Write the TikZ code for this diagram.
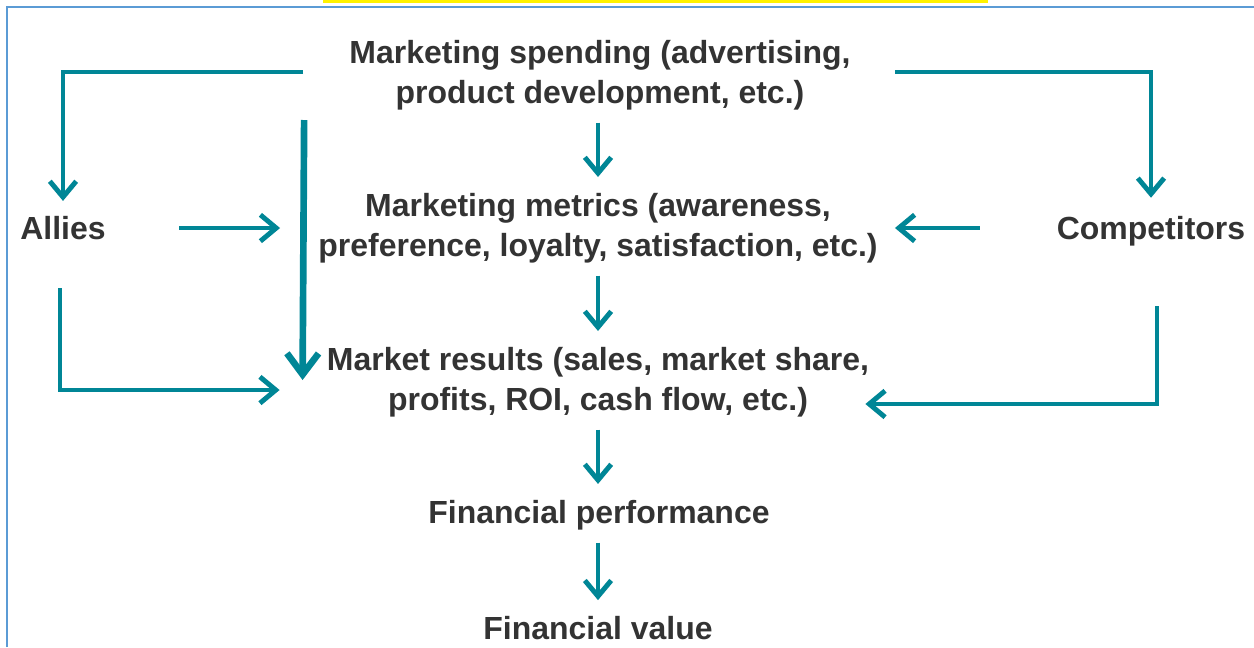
\documentclass[tikz,border=0pt]{standalone}
\usepackage{fontspec}
\setmainfont{Liberation Sans}
\usetikzlibrary{arrows.meta,positioning,calc}
\definecolor{arrteal}{RGB}{0,134,150}
\definecolor{txtgray}{RGB}{51,51,51}
\definecolor{frameblue}{RGB}{91,155,213}

\begin{document}
\begin{tikzpicture}[x=0.02cm,y=-0.02cm,
  lbl/.style={font=\fontsize{18.2}{22.7}\selectfont\bfseries,text=txtgray,align=center,inner sep=0pt},
  arr/.style={draw=arrteal,line width=2.8pt,-{Straight Barb[length=9pt,width=15pt]}},
  bigarr/.style={arr,line width=3.8pt,-{Straight Barb[length=12pt,width=18pt]}}]
  \useasboundingbox (0,0) rectangle (1254,647);
  % frame
  \fill[yellow] (323,0) rectangle (988,3);
  \draw[frameblue,line width=1.2pt] (7,647) -- (7,7) -- (1254,7);
  % middle column
  \node[lbl] (spend) at (600,75) {Marketing spending (advertising,\\product development, etc.)};
  \node[lbl] (metrics) at (598,228) {Marketing metrics (awareness,\\preference, loyalty, satisfaction, etc.)};
  \node[lbl] (results) at (598,382) {Market results (sales, market share,\\profits, ROI, cash flow, etc.)};
  \node[lbl] (perf) at (599,515) {Financial performance};
  \node[lbl] (value) at (598,628) {Financial value};
  % sides
  \node[lbl] (allies) at (63,228) {Allies};
  \node[lbl] (comp) at (1151,231) {Competitors};
  % down the middle
  \draw[arr,shorten <=7pt,shorten >=9pt] (spend.south -| metrics.north) -- (metrics.north);
  \draw[arr,shorten <=7pt,shorten >=9pt] (metrics.south) -- (metrics.south |- results.north);
  \draw[arr,shorten <=7pt,shorten >=9pt] (results.south) -- (results.south |- perf.north);
  \draw[arr,shorten <=7pt,shorten >=9pt] (perf.south -| value.north) -- (value.north);
  % from spending
  \draw[arr] ($(spend.west)+(-46,-3)$) -| ($(allies.north)+(0,-15)$);
  \draw[arr] ($(spend.east)+(44,-3)$) -| ($(comp.north)+(0,-18)$);
  \draw[bigarr] ($(spend.west)+(-45,45)$) -- ($(results.west)+(-24,-2)$);
  % allies
  \draw[arr] ($(allies.east)+(73,0)$) -- ($(metrics.west)+(-38,0)$);
  \draw[arr] ($(allies.south)+(-3,48)$) |- ($(results.west)+(-47,8)$);
  % competitors
  \draw[arr] ($(comp.west)+(-77,-3)$) -- ($(metrics.east)+(17,0)$);
  \draw[arr] ($(comp.south)+(6,60)$) |- ($(results.east)+(-4,22)$);
\end{tikzpicture}
\end{document}
